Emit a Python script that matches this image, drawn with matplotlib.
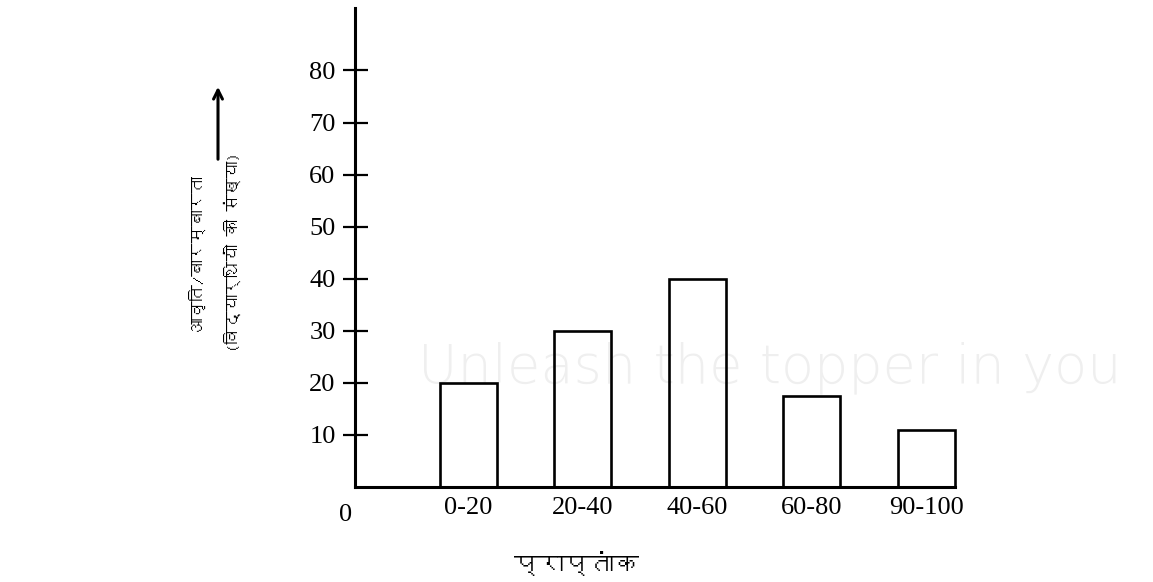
import matplotlib
matplotlib.use('Agg')
import matplotlib.pyplot as plt
from matplotlib import font_manager
from matplotlib.patches import FancyArrowPatch
import numpy as np

# data
classes = ['0-20', '20-40', '40-60', '60-80', '90-100']
students = [20, 30, 40, 17.5, 11]
yticks = [10, 20, 30, 40, 50, 60, 70, 80]
xlabel = 'प्राप्तांक'
ylabel = 'आवृति/बारम्बारता\n(विद्यार्थियों की संख्या)'

# look for an installed font that has Devanagari glyphs
deva = None
try:
    from fontTools.ttLib import TTFont
    for f in font_manager.fontManager.ttflist:
        try:
            cmap = TTFont(f.fname, fontNumber=0, lazy=True).getBestCmap()
        except Exception:
            continue
        if cmap and 0x092A in cmap:
            deva = f.name
            break
except Exception:
    pass
hindi = [deva, 'DejaVu Sans'] if deva else ['DejaVu Sans']
serif = ['Liberation Serif', 'DejaVu Serif']

W, H = 1153, 582
fig = plt.figure(figsize=(W/100, H/100), dpi=100)
ax = fig.add_axes([355/W, 1-487/H, 600/W, 479/H])
ax.patch.set_alpha(0)

x = np.arange(len(classes))
ax.bar(x, students, width=0.5, facecolor='none', edgecolor='black', linewidth=1.9,
       zorder=3, clip_on=False)

ax.set_xlim(-0.99, 4.25)
ax.set_ylim(0, 92)
for s in ['top', 'right']:
    ax.spines[s].set_visible(False)
for s in ['left', 'bottom']:
    ax.spines[s].set_linewidth(2.2)
    ax.spines[s].set_zorder(4)

ax.set_yticks(yticks)
ax.set_yticklabels([str(v) for v in yticks], family=serif, fontsize=19)
ax.tick_params(axis='y', direction='inout', length=18, width=1.6, pad=5)
ax.set_xticks(x)
ax.set_xticklabels(classes, family=serif, fontsize=19)
ax.tick_params(axis='x', length=0, pad=7)

ax.annotate('0', xy=(0, 0), xycoords='axes fraction', xytext=(-7, -12),
            textcoords='offset points', ha='center', va='top', family=serif, fontsize=19)

fig.text(577/W, 1-563/H, xlabel, family=hindi, fontsize=18, ha='center', va='center')
fig.text(214/W, 1-252/H, ylabel, family=hindi, fontsize=12, rotation=90,
         ha='center', va='center', multialignment='center', linespacing=2.3)

arrow = FancyArrowPatch((218/W, 1-162/H), (218/W, 1-84/H), transform=fig.transFigure,
                        arrowstyle='->', mutation_scale=16, lw=2.2, color='black')
fig.add_artist(arrow)

# faint watermark tagline, behind the chart
fig.text(418/W, 1-382/H, 'Unleash the topper in you', fontsize=39, color='#efefef',
         family='DejaVu Sans', fontweight='light', zorder=-1)

fig.savefig('out.png', dpi=100)
